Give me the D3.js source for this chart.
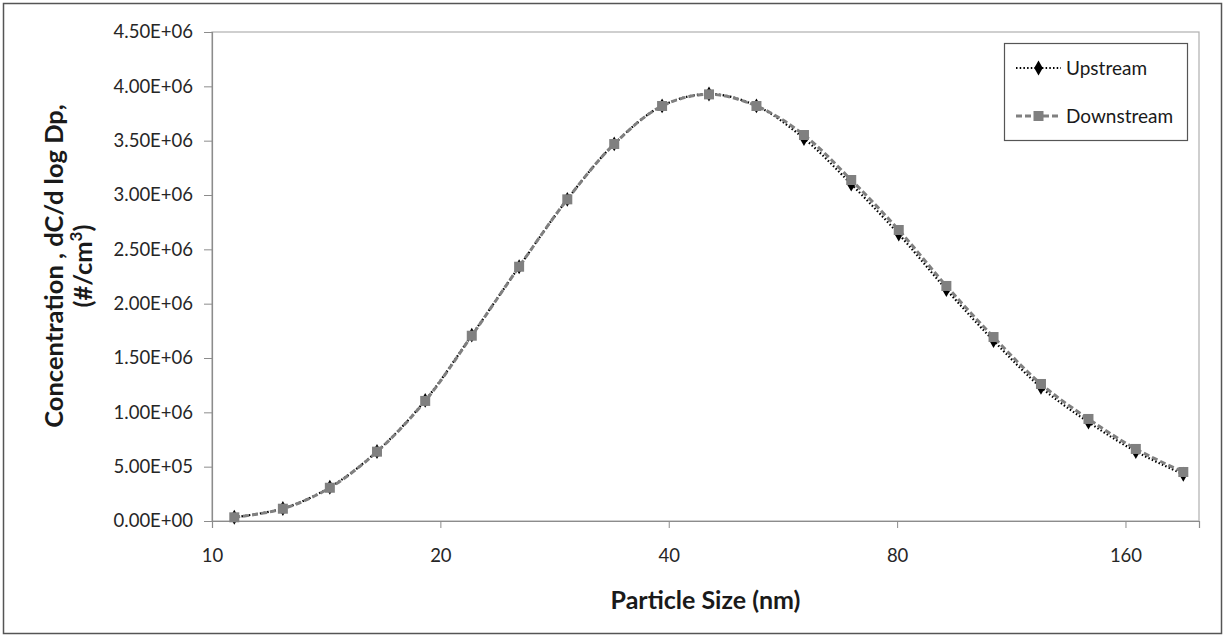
<!DOCTYPE html>
<html>
<head>
<meta charset="utf-8">
<script src="https://cdn.jsdelivr.net/npm/d3@7"></script>
<style>
  body { margin: 0; background: #fff; }
  svg { display: block; font-family: Lato, "Open Sans", sans-serif; }
  .axis text { fill: #262626; font-size: 18.5px; font-family: Lato, "Open Sans", sans-serif; }
  .axis-title { fill: #1a1a1a; font-weight: bold; }
</style>
</head>
<body>
<svg id="chart" width="1225" height="636"></svg>
<script>
// particle size channels (nm)
var sizes = [10.7, 12.4, 14.3, 16.5, 19.1, 22.0, 25.4, 29.4, 33.9, 39.2, 45.2,
             52.2, 60.3, 69.6, 80.4, 92.9, 107.2, 123.8, 143.0, 165.1, 190.7];
// dC/dlogDp (#/cm3)
var upstream = [0.035e6, 0.115e6, 0.31e6, 0.64e6, 1.11e6, 1.71e6, 2.34e6, 2.96e6, 3.47e6, 3.82e6, 3.93e6,
                3.82e6, 3.52e6, 3.10e6, 2.64e6, 2.13e6, 1.66e6, 1.23e6, 0.91e6, 0.64e6, 0.43e6];
var downstream = [0.034e6, 0.113e6, 0.306e6, 0.638e6, 1.105e6, 1.705e6, 2.34e6, 2.96e6, 3.469e6, 3.819e6, 3.926e6,
                  3.819e6, 3.552e6, 3.138e6, 2.678e6, 2.163e6, 1.693e6, 1.261e6, 0.939e6, 0.663e6, 0.451e6];
var xTicks = [10, 20, 40, 80, 160];
var yTicks = [0, 0.5e6, 1e6, 1.5e6, 2e6, 2.5e6, 3e6, 3.5e6, 4e6, 4.5e6];

var svg = d3.select("#chart");
var pLeft = 212, pTop = 32, pRight = 1199, pBottom = 521;

// outer chart border
svg.append("rect")
   .attr("x", 3.5).attr("y", 3.5).attr("width", 1218).attr("height", 630)
   .attr("fill", "#fff").attr("stroke", "#555").attr("stroke-width", 1.5);

var x = d3.scaleLog().base(2).domain([10, 200]).range([pLeft, pRight]);
var y = d3.scaleLinear().domain([0, 4.5e6]).range([pBottom, pTop]);

// plot area border
svg.append("rect")
   .attr("x", pLeft).attr("y", pTop).attr("width", pRight - pLeft).attr("height", pBottom - pTop)
   .attr("fill", "none").attr("stroke", "#b0b0b0").attr("stroke-width", 1.2);

function sci(v) {
  var parts = d3.format(".2e")(v).split("e");
  var n = +parts[1];
  return parts[0] + "E" + (n < 0 ? "-" : "+") + String(Math.abs(n)).padStart(2, "0");
}

var yAxis = svg.append("g").attr("class", "axis")
   .attr("transform", "translate(" + pLeft + ",0)")
   .call(d3.axisLeft(y).tickValues(yTicks).tickFormat(sci).tickSize(8).tickPadding(11));
yAxis.select(".domain").attr("stroke", "#8c8c8c").attr("stroke-width", 1.2);
yAxis.selectAll(".tick line").attr("stroke", "#8c8c8c");

var xAxis = svg.append("g").attr("class", "axis")
   .attr("transform", "translate(0," + pBottom + ")")
   .call(d3.axisBottom(x).tickValues(xTicks).tickFormat(d3.format("d")).tickSize(7).tickPadding(21));
xAxis.select(".domain").attr("stroke", "#8c8c8c").attr("stroke-width", 1.2);
xAxis.selectAll(".tick line").attr("stroke", "#8c8c8c");

// axis titles
svg.append("text").attr("class", "axis-title")
   .attr("x", (pLeft + pRight) / 2).attr("y", 609)
   .attr("text-anchor", "middle").style("font-size", "25px")
   .text("Particle Size (nm)");

var yt = svg.append("text").attr("class", "axis-title")
   .attr("transform", "translate(63,266) rotate(-90)")
   .attr("text-anchor", "middle").style("font-size", "25.5px");
yt.append("tspan").attr("x", 0).attr("y", 0).text("Concentration , dC/d log Dp,");
var l2 = yt.append("tspan").attr("x", 0).attr("y", 29);
l2.append("tspan").text("(#/cm");
l2.append("tspan").attr("dy", -10).style("font-size", "17px").text("3");
l2.append("tspan").attr("dy", 10).text(")");

// series
var line = d3.line()
   .x(function(d) { return x(d[0]); })
   .y(function(d) { return y(d[1]); })
   .curve(d3.curveCatmullRom.alpha(0.5));

var upData = sizes.map(function(s, i) { return [s, upstream[i]]; });
var downData = sizes.map(function(s, i) { return [s, downstream[i]]; });

var diamond = d3.symbol().type(d3.symbolDiamond).size(64);

svg.append("path").datum(upData)
   .attr("d", line).attr("fill", "none")
   .attr("stroke", "#000").attr("stroke-width", 2.2)
   .attr("stroke-dasharray", "1.5,2.2").attr("stroke-linecap", "butt");
svg.selectAll(".up-pt").data(upData).enter().append("path")
   .attr("class", "up-pt")
   .attr("d", diamond)
   .attr("transform", function(d) { return "translate(" + x(d[0]) + "," + y(d[1]) + ")"; })
   .attr("fill", "#000");

svg.append("path").datum(downData)
   .attr("d", line).attr("fill", "none")
   .attr("stroke", "#808080").attr("stroke-width", 3)
   .attr("stroke-dasharray", "6,3");
svg.selectAll(".down-pt").data(downData).enter().append("rect")
   .attr("class", "down-pt")
   .attr("x", function(d) { return x(d[0]) - 5; })
   .attr("y", function(d) { return y(d[1]) - 5; })
   .attr("width", 10).attr("height", 10)
   .attr("fill", "#808080");

// legend
var lg = svg.append("g");
lg.append("rect")
   .attr("x", 1004.5).attr("y", 43.5).attr("width", 183).attr("height", 97)
   .attr("fill", "#fff").attr("stroke", "#555").attr("stroke-width", 1.2);

var items = [
  {name: "Upstream", cy: 68},
  {name: "Downstream", cy: 116}
];
items.forEach(function(it, i) {
  if (i === 0) {
    lg.append("line").attr("x1", 1016).attr("x2", 1061).attr("y1", it.cy).attr("y2", it.cy)
      .attr("stroke", "#000").attr("stroke-width", 2.2).attr("stroke-dasharray", "1.5,2.2");
    lg.append("path").attr("d", diamond).attr("transform", "translate(1038.5," + it.cy + ")").attr("fill", "#000");
  } else {
    lg.append("line").attr("x1", 1016).attr("x2", 1061).attr("y1", it.cy).attr("y2", it.cy)
      .attr("stroke", "#808080").attr("stroke-width", 3).attr("stroke-dasharray", "6,3");
    lg.append("rect").attr("x", 1033.5).attr("y", it.cy - 5).attr("width", 10).attr("height", 10).attr("fill", "#808080");
  }
  lg.append("text").attr("x", 1066).attr("y", it.cy).attr("dy", "0.35em")
    .style("font-size", "19px").attr("fill", "#1a1a1a").text(it.name);
});
</script>
</body>
</html>
